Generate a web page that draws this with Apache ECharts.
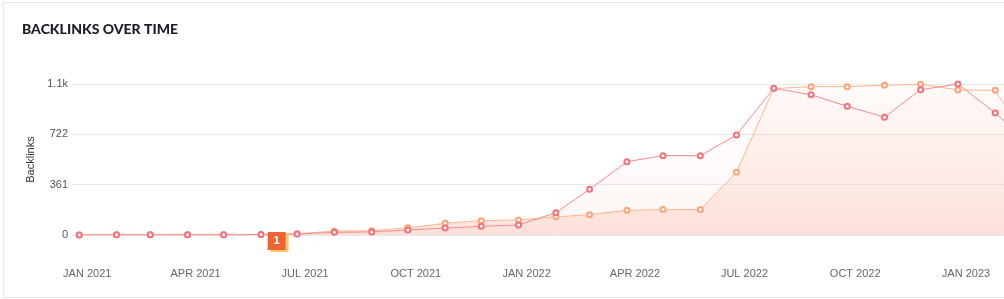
<!DOCTYPE html>
<html>
<head>
<meta charset="utf-8">
<script src="https://cdn.jsdelivr.net/npm/echarts@6/dist/echarts.min.js"></script>
<style>
    body { margin: 0; overflow: hidden; background: #fff; }
    #card { position: absolute; left: 3px; top: 2px; width: 1100px; height: 294px; border: 1px solid #e8e8e8; }
    #chart { position: absolute; left: 0; top: 0; width: 1070px; height: 299px; }
</style>
</head>
<body>
<div id="card"></div>
<div id="chart"></div>
<script>
// monthly snapshots
let months = ['2021-01-01', '2021-02-01', '2021-03-01', '2021-04-01', '2021-05-01', '2021-06-01',
    '2021-07-01', '2021-08-01', '2021-09-01', '2021-10-01', '2021-11-01', '2021-12-01',
    '2022-01-01', '2022-02-01', '2022-03-01', '2022-04-01', '2022-05-01', '2022-06-01',
    '2022-07-01', '2022-08-01', '2022-09-01', '2022-10-01', '2022-11-01', '2022-12-01',
    '2023-01-01', '2023-02-01', '2023-03-01'];

let backlinks = [0, 2, 2, 2, 2, 3, 7, 19, 22, 36, 50, 62, 72, 160, 328, 526, 569, 569,
    717, 1052, 1006, 923, 845, 1042, 1083, 875, 660];

let pages = [0, 2, 2, 2, 2, 3, 9, 28, 31, 52, 84, 103, 108, 130, 146, 177, 182, 182,
    450, 1050, 1064, 1064, 1074, 1081, 1040, 1038, 665];

let yTicks = [0, 361, 722, 1083];
let xTicks = ['2021-01-01', '2021-04-01', '2021-07-01', '2021-10-01', '2022-01-01',
    '2022-04-01', '2022-07-01', '2022-10-01', '2023-01-01'];

let annotationDate = '2021-06-14';
let annotationText = '1';

let monthNames = ['JAN', 'FEB', 'MAR', 'APR', 'MAY', 'JUN', 'JUL', 'AUG', 'SEP', 'OCT', 'NOV', 'DEC'];

function ts(d)
{
    return new Date(d + 'T00:00:00').getTime();
}

function pairs(values)
{
    let out = [];
    for (let [i, v] of values.entries())
    {
        out.push([ts(months[i]), v]);
    }
    return out;
}

function areaGradient(top, bottom)
{
    return new echarts.graphic.LinearGradient(0, 0, 0, 1, [
        { offset: 0, color: top },
        { offset: 1, color: bottom }
    ]);
}

var myChart = echarts.init(document.getElementById('chart'));

let option = {
    animation: false,
    title: {
        text: 'BACKLINKS OVER TIME',
        left: 17,
        top: 17,
        textStyle: {
            fontFamily: 'Lato',
            fontWeight: 900,
            fontSize: 14,
            color: '#1c1c2b'
        }
    },
    grid: {
        left: 72,
        top: 84,
        width: 963,
        height: 151
    },
    xAxis: {
        type: 'value',
        min: ts('2020-12-26'),
        max: ts('2023-03-06'),
        axisLine: { show: false },
        axisTick: { show: false },
        splitLine: { show: false },
        axisLabel: {
            customValues: xTicks.map(ts),
            formatter: function (v) {
                let d = new Date(v);
                return monthNames[d.getMonth()] + ' ' + d.getFullYear();
            },
            margin: 33,
            padding: [0, 0, 0, 16],
            fontFamily: 'Liberation Sans, Arial',
            fontSize: 11,
            color: '#666'
        }
    },
    yAxis: {
        type: 'value',
        min: 0,
        max: 1083,
        interval: 361,
        name: 'Backlinks',
        nameLocation: 'middle',
        nameGap: 35,
        nameTextStyle: {
            fontFamily: 'Liberation Sans, Arial',
            fontSize: 11,
            color: '#333'
        },
        axisLine: { show: false },
        axisTick: { show: false },
        splitLine: { lineStyle: { color: '#e8e8e8', width: 1 } },
        axisLabel: {
            margin: 4,
            fontFamily: 'Liberation Sans, Arial',
            fontSize: 11,
            color: '#555',
            formatter: function (v) {
                return v >= 1000 ? (v / 1000).toFixed(1) + 'k' : String(v);
            }
        }
    },
    series: [
        {
            name: 'Pages',
            type: 'line',
            data: pairs(pages),
            symbol: 'emptyCircle',
            symbolSize: 5,
            lineStyle: { color: '#ffb68c', width: 1 },
            itemStyle: { color: '#ffa374', borderWidth: 1.5 },
            areaStyle: { color: areaGradient('rgba(252,170,140,0.06)', 'rgba(246,150,120,0.36)') },
            markPoint: {
                symbol: 'rect',
                symbolSize: 18,
                symbolOffset: [0, 6],
                itemStyle: {
                    color: '#ef6436',
                    shadowColor: '#ffc864',
                    shadowBlur: 0,
                    shadowOffsetX: 3,
                    shadowOffsetY: 2
                },
                label: {
                    show: true,
                    color: '#fff',
                    fontWeight: 'bold',
                    fontSize: 11,
                    fontFamily: 'Liberation Sans, Arial'
                },
                data: [{ coord: [ts(annotationDate), 0], value: annotationText }]
            }
        },
        {
            name: 'Backlinks',
            type: 'line',
            data: pairs(backlinks),
            symbol: 'emptyCircle',
            symbolSize: 5,
            lineStyle: { color: '#f8898d', width: 1 },
            itemStyle: { color: '#f3707c', borderWidth: 1.5 },
            areaStyle: { color: areaGradient('rgba(252,230,228,0.12)', 'rgba(250,200,190,0.22)') }
        }
    ]
};

myChart.setOption(option);
</script>
</body>
</html>
